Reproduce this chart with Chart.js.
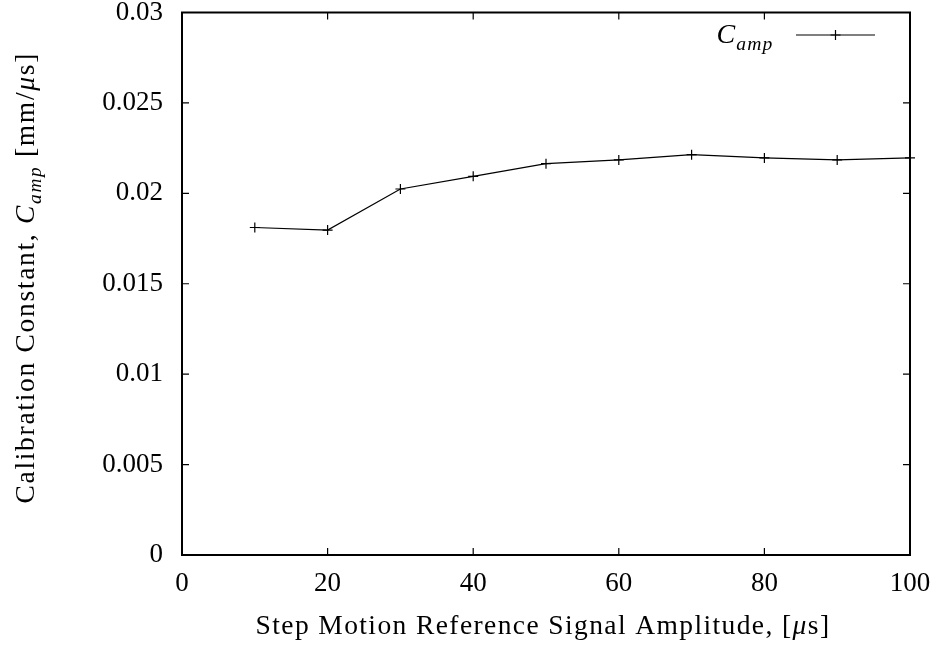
<!DOCTYPE html>
<html>
<head>
<meta charset="utf-8">
<script src="https://cdn.jsdelivr.net/npm/chart.js@4"></script>
<style>
  html, body { margin: 0; padding: 0; background: #fff; }
  #wrap { width: 940px; height: 651px; }
</style>
</head>
<body>
<div id="wrap"><canvas id="chart" width="940" height="651"></canvas></div>
<script>
// data
var amplitudes = [10, 20, 30, 40, 50, 60, 70, 80, 90, 100];
var cAmp = [0.01811, 0.01797, 0.02024, 0.02094, 0.02164, 0.02185, 0.02214, 0.02196, 0.02185, 0.02196];
var xTickLabels = ['0', '20', '40', '60', '80', '100'];
var yTickLabels = ['0', '0.005', '0.01', '0.015', '0.02', '0.025', '0.03'];

var serif = "'Liberation Serif', 'DejaVu Serif', serif";
var fontSize = 27;

// draw a run of text pieces (italic / subscript) centred on (0,0)
function drawRuns(ctx, runs, size, spacing) {
    ctx.letterSpacing = (spacing || 0) + 'px';
    var widths = runs.map(function (r) {
        ctx.font = (r.it ? 'italic ' : '') + (r.sub ? size * 0.7 : size) + 'px ' + serif;
        return ctx.measureText(r.t).width;
    });
    var total = widths.reduce(function (a, b) { return a + b; }, 0);
    var x = -total / 2;
    runs.forEach(function (r, i) {
        ctx.font = (r.it ? 'italic ' : '') + (r.sub ? size * 0.7 : size) + 'px ' + serif;
        ctx.fillText(r.t, x, r.sub ? size * 0.24 : 0);
        x += widths[i];
    });
    ctx.letterSpacing = '0px';
    return total;
}

var framePlugin = {
    id: 'frame',
    afterDatasetsDraw: function (chart) {
        var ctx = chart.ctx, a = chart.chartArea;
        var xs = chart.scales.x, ys = chart.scales.y;
        ctx.save();
        ctx.strokeStyle = '#000';
        ctx.lineWidth = 2;
        ctx.strokeRect(a.left, a.top, a.right - a.left, a.bottom - a.top);
        ctx.lineWidth = 1.2;
        ctx.beginPath();
        xs.ticks.forEach(function (t) {
            var px = xs.getPixelForValue(t.value);
            ctx.moveTo(px, a.bottom); ctx.lineTo(px, a.bottom - 7);
            ctx.moveTo(px, a.top); ctx.lineTo(px, a.top + 7);
        });
        ys.ticks.forEach(function (t) {
            var py = ys.getPixelForValue(t.value);
            ctx.moveTo(a.left, py); ctx.lineTo(a.left + 7, py);
            ctx.moveTo(a.right, py); ctx.lineTo(a.right - 7, py);
        });
        ctx.stroke();

        ctx.fillStyle = '#000';
        ctx.textBaseline = 'alphabetic';
        ctx.textAlign = 'left';

        // x title
        ctx.save();
        ctx.translate((a.left + a.right) / 2 - 3, 634);
        drawRuns(ctx, [
            { t: 'Step Motion Reference Signal Amplitude, [' },
            { t: 'μ', it: true },
            { t: 's]' }
        ], 27.5, 1.4);
        ctx.restore();

        // y title
        ctx.save();
        ctx.translate(34, (a.top + a.bottom) / 2 - 6);
        ctx.rotate(-Math.PI / 2);
        drawRuns(ctx, [
            { t: 'Calibration Constant, ' },
            { t: 'C', it: true },
            { t: 'amp', it: true, sub: true },
            { t: ' [mm/' },
            { t: 'μ', it: true },
            { t: 's]' }
        ], 27.5, 1.7);
        ctx.restore();

        // legend
        var ds = chart.data.datasets[0];
        ctx.save();
        ctx.translate(745, 43);
        drawRuns(ctx, [
            { t: 'C', it: true },
            { t: 'amp', it: true, sub: true }
        ], 28, 1.2);
        ctx.restore();
        ctx.lineWidth = ds.borderWidth;
        ctx.beginPath();
        ctx.moveTo(796, 35); ctx.lineTo(875, 35);
        ctx.stroke();
        Chart.helpers.drawPoint(ctx, { pointStyle: 'cross', radius: ds.pointRadius, rotation: 0, borderWidth: 1 }, 835.5, 35);
        ctx.restore();
    }
};

new Chart(document.getElementById('chart'), {
    type: 'line',
    data: {
        datasets: [{
            label: 'C_amp',
            data: amplitudes.map(function (x, i) { return { x: x, y: cAmp[i] }; }),
            borderColor: '#000',
            backgroundColor: '#000',
            borderWidth: 1.2,
            pointStyle: 'cross',
            pointRadius: 5,
            pointBorderWidth: 1.2,
            tension: 0,
            clip: false
        }]
    },
    options: {
        responsive: false,
        animation: false,
        layout: { padding: { top: 12.5, right: 30, left: 0, bottom: 0 } },
        plugins: { legend: { display: false }, tooltip: { enabled: false } },
        scales: {
            x: {
                type: 'linear', min: 0, max: 100,
                grid: { display: false, drawTicks: false },
                border: { display: false },
                ticks: {
                    stepSize: 20, padding: 13, maxRotation: 0, color: '#000',
                    font: { family: serif, size: fontSize },
                    callback: function (v, i) { return xTickLabels[i]; }
                },
                afterFit: function (s) { s.height = 96; s.paddingLeft = 0; s.paddingRight = 0; }
            },
            y: {
                min: 0, max: 0.03,
                grid: { display: false, drawTicks: false },
                border: { display: false },
                ticks: {
                    stepSize: 0.005, padding: 19, color: '#000',
                    font: { family: serif, size: fontSize },
                    callback: function (v, i) { return yTickLabels[i]; }
                },
                afterFit: function (s) { s.width = 182; s.paddingTop = 0; s.paddingBottom = 0; }
            }
        }
    },
    plugins: [framePlugin]
});
</script>
</body>
</html>
